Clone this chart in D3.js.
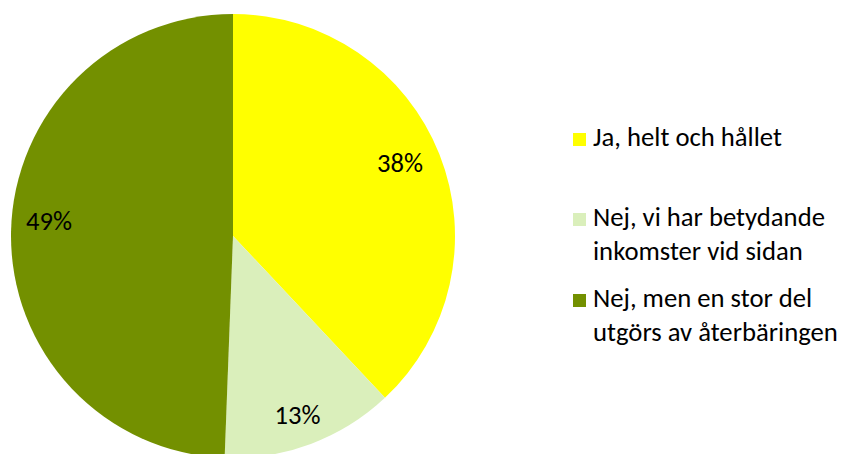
<!DOCTYPE html>
<html>
<head>
<meta charset="utf-8">
<script src="https://cdn.jsdelivr.net/npm/d3@7"></script>
<style>
  html, body { margin: 0; padding: 0; background: #fff; }
  svg { display: block; }
  text { font-family: Carlito, Calibri, Lato, "Open Sans", sans-serif; fill: #000; }
</style>
</head>
<body>
<svg id="chart" width="843" height="454"></svg>
<script>
const categories = ["Ja, helt och hållet", "Nej, vi har betydande inkomster vid sidan", "Nej, men en stor del utgörs av återbäringen"];
const legendLines = [["Ja, helt och hållet"], ["Nej, vi har betydande", "inkomster vid sidan"], ["Nej, men en stor del", "utgörs av återbäringen"]];
const values = [38, 12.6, 49.4];
const colors = ["#FFFF00", "#DAEFBB", "#739000"];

const svg = d3.select("#chart");
const cx = 233, cy = 236, r = 222;
// small label placement adjustments (layout only)
const labelNudge = [[-4, -5], [0, 7], [0, -12]];

const pie = d3.pie().sort(null).value(d => d)(values);
const arc = d3.arc().innerRadius(0).outerRadius(r);
const labelArc = d3.arc().innerRadius(184).outerRadius(184);

const g = svg.append("g").attr("transform", `translate(${cx},${cy})`);
g.selectAll("path").data(pie).enter().append("path")
  .attr("d", arc)
  .attr("fill", (d, i) => colors[i]);

const total = d3.sum(values);
const labels = g.selectAll("text.lbl").data(pie).enter().append("text")
  .attr("class", "lbl")
  .attr("text-anchor", "middle")
  .attr("dominant-baseline", "central")
  .attr("transform", (d, i) => { const c = labelArc.centroid(d); return `translate(${c[0] + labelNudge[i][0]},${c[1] + labelNudge[i][1]})`; })
  .style("font-size", "20px")
  .text(d => Math.round(d.value / total * 100) + "%");
const lw = labels.node().getComputedTextLength();
labels.style("font-size", (20 * 46 / lw) + "px");

// Legend
const leg = svg.append("g");
const legTop = [133, 213, 294];
const lineGap = 34;
legendLines.forEach((lines, i) => {
  leg.append("rect").attr("x", 573).attr("y", legTop[i]).attr("width", 13).attr("height", 13).attr("fill", colors[i]);
  lines.forEach((t, j) => {
    leg.append("text").attr("class", "legtxt")
      .attr("x", 593).attr("y", legTop[i] + 13 + j * lineGap)
      .style("font-size", "20px")
      .text(t);
  });
});
const ref = leg.selectAll("text.legtxt").filter(function() { return this.textContent === "utgörs av återbäringen"; });
const w = ref.node().getComputedTextLength();
leg.selectAll("text.legtxt").style("font-size", (20 * 245 / w) + "px");
</script>
</body>
</html>
